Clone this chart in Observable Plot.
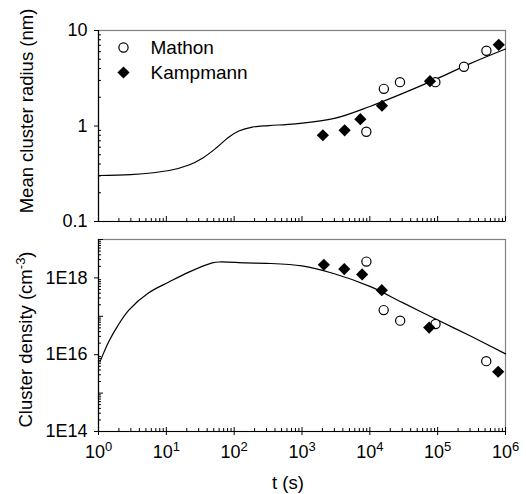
<!DOCTYPE html>
<html>
<head>
<meta charset="utf-8">
<script src="https://cdn.jsdelivr.net/npm/d3@7"></script>
<script src="https://cdn.jsdelivr.net/npm/@observablehq/plot@0.6"></script>
<style>
  html, body { margin: 0; padding: 0; background: #fff; }
  #chart svg { display: block; }
</style>
</head>
<body>
<div id="chart"></div>
<script>
// ---- Data ----
// Model curve, mean cluster radius (nm) vs t (s)
const radiusModelT = [1, 3, 11, 21.5, 34, 53, 83, 117, 185, 325, 800, 3000, 1e4, 3e4, 1e5, 3e5, 1e6];
const radiusModelR = [0.303, 0.31, 0.342, 0.39, 0.46, 0.58, 0.764, 0.885, 0.975, 1.01, 1.055, 1.2, 1.6, 2.18, 3.15, 4.5, 6.4];
// Model curve, cluster density (cm^-3) vs t (s)
const densityModelT = [1.05, 1.42, 1.89, 2.8, 5.5, 10.9, 21.5, 47.5, 63, 147, 300, 1000, 3000, 1e4, 3e4, 1e5, 3e5, 1e6];
const densityModelN = [6.5e15, 2.2e16, 5.4e16, 1.45e17, 4.1e17, 7.8e17, 1.41e18, 2.45e18, 2.6e18, 2.45e18, 2.4e18, 2.05e18, 1.28e18, 6e17, 2.3e17, 8e16, 3.1e16, 1.05e16];

// Mathon (open circles)
const mathonRadiusT = [8880, 16100, 27800, 92500, 244000, 523000];
const mathonRadius  = [0.87, 2.45, 2.88, 2.88, 4.17, 6.13];
const mathonDensityT = [8900, 16000, 28000, 93000, 520000];
const mathonDensity  = [2.66e18, 1.45e17, 7.7e16, 6.3e16, 6.8e15];

// Kampmann (filled diamonds)
const kampRadiusT = [2030, 4250, 7250, 15100, 77000, 795000];
const kampRadius  = [0.80, 0.90, 1.18, 1.63, 2.95, 7.08];
const kampDensityT = [2100, 4200, 7700, 15000, 75000, 780000];
const kampDensity  = [2.2e18, 1.7e18, 1.23e18, 4.8e17, 5.1e16, 3.6e15];

// Tick labels
const xTicks = [1, 10, 100, 1000, 1e4, 1e5, 1e6];
const radiusTicks = [0.1, 1, 10];
const densityTicks = [1e14, 1e16, 1e18];
const densityOddDecades = [1e15, 1e17, 1e19];

const seriesNames = ["Mathon", "Kampmann"];
const xLabel = "t (s)";
const radiusLabel = "Mean cluster radius (nm)";
const densityLabel = "Cluster density (cm-3)";

// ---- Helpers ----
const zip = (xs, ys, kx, ky) => xs.map((v, i) => ({[kx]: v, [ky]: ys[i]}));
function minorTicks(lo, hi) {
  const out = [];
  for (let d = lo; d < hi; d *= 10) for (let k = 2; k <= 9; k++) out.push(d * k);
  return out;
}
const xMinor = minorTicks(1, 1e6);
const rMinor = minorTicks(0.1, 10);
const nMinor = minorTicks(1e14, 1e19);

const font = "'Liberation Sans', Arial, Helvetica, sans-serif";
const W = 526, ML = 98, MR = 21;
const PW = W - ML - MR;

// ---- Top panel ----
const topH = 230, topMT = 30, topMB = 9;
const topPH = topH - topMT - topMB;
const topPlot = Plot.plot({
  width: W, height: topH,
  marginTop: topMT, marginBottom: topMB, marginLeft: ML, marginRight: MR,
  style: {fontFamily: font, fontSize: "17px", color: "black", background: "white"},
  x: {type: "log", domain: [1, 1e6], axis: null},
  y: {type: "log", domain: [0.1, 10]},
  marks: [
    Plot.frame({stroke: "#808080", strokeWidth: 1.2}),
    Plot.ruleX([1], {stroke: "black", strokeWidth: 1.2}),
    Plot.ruleY([0.1], {stroke: "black", strokeWidth: 1.2}),
    Plot.tickX(xMinor, {x: d => d, insetTop: topPH - 3, stroke: "black"}),
    Plot.tickX(xTicks, {x: d => d, insetTop: topPH - 5, stroke: "black"}),
    Plot.tickY(rMinor, {y: d => d, insetRight: PW - 3, stroke: "black"}),
    Plot.axisY(radiusTicks, {tickSize: 4, tickPadding: 7, tickFormat: d => String(d), fontSize: 18, label: null}),
    Plot.line(zip(radiusModelT, radiusModelR, "t", "v"), {x: "t", y: "v", curve: "catmull-rom", stroke: "black", strokeWidth: 1.2}),
    Plot.dot(zip(mathonRadiusT, mathonRadius, "t", "v"), {x: "t", y: "v", r: 4.6, stroke: "black", fill: "white", strokeWidth: 1.2}),
    Plot.dot(zip(kampRadiusT, kampRadius, "t", "v"), {x: "t", y: "v", r: 5.5, symbol: "diamond2", fill: "black", stroke: "none"}),
    // legend
    Plot.dot([seriesNames[0]], {frameAnchor: "top-left", dx: 25, dy: 17, r: 4.6, stroke: "black", fill: "white", strokeWidth: 1.2}),
    Plot.dot([seriesNames[1]], {frameAnchor: "top-left", dx: 25, dy: 42, r: 5.5, symbol: "diamond2", fill: "black", stroke: "none"}),
    Plot.text([seriesNames[0]], {text: d => d, frameAnchor: "top-left", dx: 52, dy: 17, textAnchor: "start", lineAnchor: "middle", fontSize: 19, fill: "black"}),
    Plot.text([seriesNames[1]], {text: d => d, frameAnchor: "top-left", dx: 52, dy: 42, textAnchor: "start", lineAnchor: "middle", fontSize: 19, fill: "black"}),
    // y label
    Plot.text([radiusLabel], {text: d => d, frameAnchor: "left", dx: -71, dy: -15, rotate: -90, textAnchor: "middle", lineAnchor: "middle", fontSize: 18.5, fill: "black"})
  ]
});

// ---- Bottom panel ----
const botH = 264, botMT = 9, botMB = 63;
const botPH = botH - botMT - botMB;
const botPlot = Plot.plot({
  width: W, height: botH,
  marginTop: botMT, marginBottom: botMB, marginLeft: ML, marginRight: MR,
  style: {fontFamily: font, fontSize: "17px", color: "black", background: "white"},
  x: {type: "log", domain: [1, 1e6]},
  y: {type: "log", domain: [1e14, 1e19]},
  marks: [
    Plot.frame({stroke: "#808080", strokeWidth: 1.2}),
    Plot.ruleX([1], {stroke: "black", strokeWidth: 1.2}),
    Plot.ruleY([1e14], {stroke: "black", strokeWidth: 1.2}),
    Plot.tickX(xMinor, {x: d => d, insetTop: botPH - 3, stroke: "black"}),
    Plot.tickX(xTicks, {x: d => d, insetTop: botPH - 4, stroke: "black"}),
    Plot.tickY(nMinor, {y: d => d, insetRight: PW - 3, stroke: "black"}),
    Plot.tickY(densityOddDecades, {y: d => d, insetRight: PW - 5, stroke: "black"}),
    Plot.axisX(xTicks, {tickSize: 4, tickPadding: 10, tickFormat: d => "10^" + Math.round(Math.log10(d)), fontSize: 18, label: null}),
    Plot.axisY(densityTicks, {tickSize: 4, tickPadding: 7, tickFormat: d => "1E" + Math.round(Math.log10(d)), fontSize: 18, label: null}),
    Plot.line(zip(densityModelT, densityModelN, "t", "v"), {x: "t", y: "v", curve: "catmull-rom", stroke: "black", strokeWidth: 1.2}),
    Plot.dot(zip(mathonDensityT, mathonDensity, "t", "v"), {x: "t", y: "v", r: 4.6, stroke: "black", fill: "white", strokeWidth: 1.2}),
    Plot.dot(zip(kampDensityT, kampDensity, "t", "v"), {x: "t", y: "v", r: 5.5, symbol: "diamond2", fill: "black", stroke: "none"}),
    Plot.text([densityLabel], {text: d => d, frameAnchor: "left", dx: -72, dy: 4, rotate: -90, textAnchor: "middle", lineAnchor: "middle", fontSize: 18.5, fill: "black"}),
    Plot.text([xLabel], {text: d => d, frameAnchor: "bottom", dx: -14, dy: 52, textAnchor: "middle", lineAnchor: "middle", fontSize: 18.5, fill: "black"})
  ]
});

// Superscripts in tick labels and density label
d3.select(botPlot).selectAll("text").each(function() {
  const t = d3.select(this);
  const s = t.text();
  if (/^10\^\d+$/.test(s)) {
    const [base, exp] = s.split("^");
    t.text(null);
    t.append("tspan").text(base);
    t.append("tspan").attr("dy", "-7").attr("font-size", "13").text(exp);
  } else if (s === densityLabel) {
    t.text(null);
    t.append("tspan").text("Cluster density (cm");
    t.append("tspan").attr("dy", "-7").attr("font-size", "13").text("-3");
    t.append("tspan").attr("dy", "7").text(")");
  }
});

const chart = document.getElementById("chart");
chart.appendChild(topPlot);
chart.appendChild(botPlot);
</script>
</body>
</html>
